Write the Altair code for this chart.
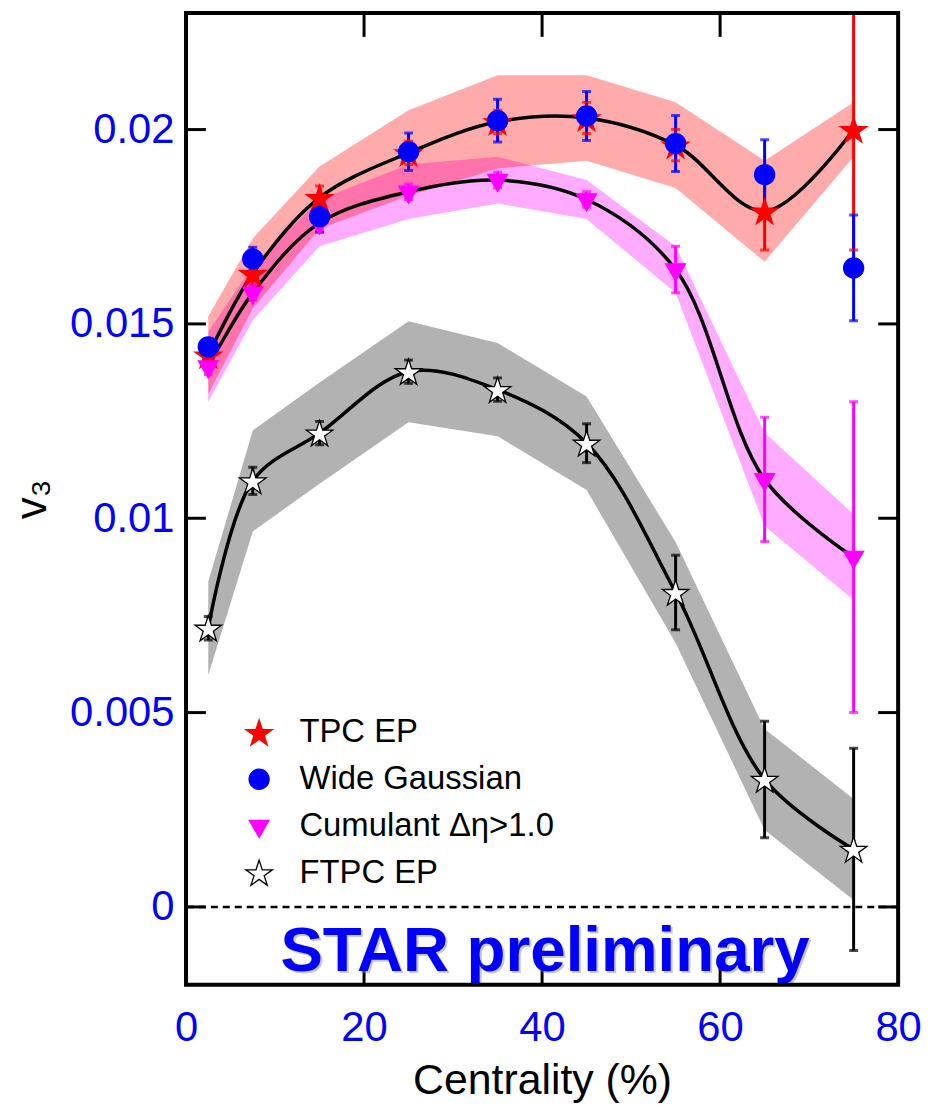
import altair as alt
import pandas as pd

FONT = "Liberation Sans"

# ---------------- data ----------------
CENT = [2.5, 7.5, 15, 25, 35, 45, 55, 65, 75]

SERIES = ["TPC EP", "Wide Gaussian", "Cumulant Δη>1.0", "FTPC EP"]
COLORS = ["#ff0000", "#0000ff", "#ff00ff", "#000000"]
FILLS = ["#ff0000", "#0000ff", "#ff00ff", "#ffffff"]

TPC_V = [0.0142, 0.0163, 0.01825, 0.0194, 0.0202, 0.0203, 0.0196, 0.0179, 0.0200]
TPC_E = [0.0003, 0.0003, 0.0003, 0.0003, 0.0003, 0.0004, 0.0004, 0.0010, 0.0031]
TPC_SYS = [0.0010, 0.0009, 0.0008, 0.0011, 0.0012, 0.0011, 0.0011, 0.0013, 0.0007]

WG_V = [0.01441, 0.01667, 0.01776, 0.01943, 0.02023, 0.02035, 0.01964, 0.01884, 0.01644]
WG_E = [0.0002, 0.0003, 0.0004, 0.00048, 0.00055, 0.00063, 0.00072, 0.0009, 0.00136]

CUM_V = [0.0139, 0.0158, 0.0176, 0.0184, 0.0187, 0.0182, 0.0164, 0.0110, 0.0090]
CUM_E = [0.0002, 0.0002, 0.0002, 0.0002, 0.0002, 0.0002, 0.0006, 0.0016, 0.0040]
CUM_SYS = [0.0009, 0.0007, 0.0006, 0.0007, 0.0006, 0.0005, 0.0006, 0.0012, 0.0011]

FTPC_V = [0.00717, 0.01096, 0.01219, 0.01377, 0.01331, 0.01193, 0.00809, 0.00328, 0.00148]
FTPC_E = [0.0003, 0.00035, 0.0003, 0.0003, 0.0003, 0.0005, 0.00096, 0.0015, 0.0026]
FTPC_SYS = [0.0012, 0.0013, 0.0013, 0.0013, 0.0012, 0.0012, 0.0013, 0.0013, 0.0013]

X_TICKS = [0, 20, 40, 60, 80]
Y_TICKS = [0, 0.005, 0.01, 0.015, 0.02]
X_INNER = [20, 40, 60]
Y_INNER = [0, 0.005, 0.01, 0.015, 0.02]
STAR_LABEL = "STAR preliminary"

# ---------------- table ----------------
rows = []
spec = [
    ("TPC EP", TPC_V, TPC_E, TPC_SYS, "#ff0000"),
    ("Cumulant Δη>1.0", CUM_V, CUM_E, CUM_SYS, "#ff00ff"),
    ("Wide Gaussian", WG_V, WG_E, None, "#0000ff"),
    ("FTPC EP", FTPC_V, FTPC_E, FTPC_SYS, "#000000"),
]
for name, vals, errs, syss, col in spec:
    for i, (c, v, e) in enumerate(zip(CENT, vals, errs)):
        s = syss[i] if syss is not None else None
        rows.append(dict(series=name, cent=c, v=v, lo=v - e, hi=v + e,
                         slo=(v - s) if s is not None else None,
                         shi=(v + s) if s is not None else None,
                         ecol=col, order=len(rows)))
df = pd.DataFrame(rows)

W, H = 716, 977

x_scale = alt.Scale(domain=[0, 80], nice=False, zero=False)
y_scale = alt.Scale(domain=[-0.002, 0.023], nice=False, zero=False)

X_AXIS = alt.Axis(values=X_TICKS, grid=False, ticks=False, tickSize=0, domain=False,
                  labelFont=FONT, labelFontSize=42, labelColor="#0000ff",
                  labelBaseline="alphabetic", labelPadding=56, labelFlush=False,
                  title="Centrality (%)", titleFont=FONT, titleFontSize=43,
                  titleFontWeight="normal", titleColor="black",
                  titleBaseline="alphabetic", titleY=109)
Y_AXIS = alt.Axis(values=Y_TICKS, grid=False, ticks=False, tickSize=0, domain=False,
                  labelFont=FONT, labelFontSize=42, labelColor="#0000ff",
                  labelPadding=12, labelFlush=False,
                  labelExpr="format(datum.value, '~g')",
                  title="v₃", titleFont=FONT, titleFontSize=44,
                  titleFontWeight="normal", titleColor="black",
                  titleBaseline="alphabetic", titleX=-141, titleY=H / 2, titleAngle=-90)


def X(field):
    return alt.X(field, type="quantitative", scale=x_scale, axis=X_AXIS)


def Y(field):
    return alt.Y(field, type="quantitative", scale=y_scale, axis=Y_AXIS)


base = alt.Chart(df)

STAR = ("M0,-0.905L0.2245,-0.214L0.9511,-0.214L0.3633,0.213L0.5878,0.904L0,0.477"
        "L-0.5878,0.904L-0.3633,0.213L-0.9511,-0.214L-0.2245,-0.214Z")
CIRCLE = "M0.72,0A0.72,0.72,0,1,1,-0.72,0A0.72,0.72,0,1,1,0.72,0Z"
TRI = "M-0.71,-0.41L0.71,-0.41L0,0.82Z"


def band(name, color, op):
    return base.transform_filter(alt.datum.series == name).mark_area(
        color=color, opacity=op, interpolate="linear"
    ).encode(x=X("cent"), y=Y("slo"), y2="shi")


bands = band("FTPC EP", "#000000", 0.3) + band("Cumulant Δη>1.0", "#ff00ff", 0.33) + band("TPC EP", "#ff0000", 0.33)

lines = base.transform_filter(
    alt.FieldOneOfPredicate(field="series", oneOf=["TPC EP", "Cumulant Δη>1.0", "FTPC EP"])
).mark_line(color="black", strokeWidth=3.5, interpolate="catmull-rom").encode(
    x=X("cent"), y=Y("v"), detail="series:N", order="cent:Q"
)

zero = alt.Chart(pd.DataFrame({"z": [0]})).mark_rule(
    color="black", strokeWidth=2.5, strokeDash=[7, 5]
).encode(y=Y("z"))

err = base.mark_rule(strokeWidth=3, clip=True).encode(
    x=X("cent"), y=Y("lo"), y2="hi", stroke=alt.Stroke("ecol:N", scale=None)
)
cap_lo = base.mark_tick(orient="horizontal", size=9, thickness=3, clip=True).encode(
    x=X("cent"), y=Y("lo"), color=alt.Color("ecol:N", scale=None)
)
cap_hi = base.mark_tick(orient="horizontal", size=9, thickness=3, clip=True).encode(
    x=X("cent"), y=Y("hi"), color=alt.Color("ecol:N", scale=None)
)

legend = alt.Legend(title=None, orient="none", legendX=57, legendY=707,
                    symbolSize=784, symbolStrokeWidth=1.3, labelFont=FONT,
                    labelFontSize=33, labelColor="black", labelOffset=24,
                    rowPadding=13, padding=0, labelLimit=500, symbolOpacity=1)

points = base.mark_point(opacity=1, strokeWidth=1.3, size=784).encode(
    x=X("cent"), y=Y("v"),
    shape=alt.Shape("series:N", scale=alt.Scale(domain=SERIES, range=[STAR, CIRCLE, TRI, STAR]), legend=legend),
    fill=alt.Fill("series:N", scale=alt.Scale(domain=SERIES, range=FILLS), legend=legend),
    stroke=alt.Stroke("series:N", scale=alt.Scale(domain=SERIES, range=COLORS), legend=legend),
    order="order:Q",
)

xt = pd.DataFrame({"t": X_INNER})
yt = pd.DataFrame({"t": Y_INNER})
ticks_top = alt.Chart(xt).mark_rule(color="black", strokeWidth=3).encode(
    x=X("t"), y=alt.value(0), y2=alt.value(24))
ticks_bot = alt.Chart(xt).mark_rule(color="black", strokeWidth=3).encode(
    x=X("t"), y=alt.value(H), y2=alt.value(H - 18))
ticks_left = alt.Chart(yt).mark_rule(color="black", strokeWidth=3).encode(
    y=Y("t"), x=alt.value(0), x2=alt.value(20))
ticks_right = alt.Chart(yt).mark_rule(color="black", strokeWidth=3).encode(
    y=Y("t"), x=alt.value(W), x2=alt.value(W - 20))

frame = alt.Chart(pd.DataFrame({"f": [1]})).mark_rect(
    fillOpacity=0, stroke="black", strokeWidth=4
).encode(x=alt.value(0), x2=alt.value(W), y=alt.value(0), y2=alt.value(H))

lab = pd.DataFrame({"label": [STAR_LABEL]})
star_shadow = alt.Chart(lab).mark_text(
    font=FONT, fontSize=64, fontWeight="bold", color="#888888", opacity=0.45,
    align="center", baseline="alphabetic", dx=2, dy=2
).encode(text="label:N", x=alt.value(361), y=alt.value(963))
star_text = alt.Chart(lab).mark_text(
    font=FONT, fontSize=64, fontWeight="bold", color="#0000ff",
    align="center", baseline="alphabetic"
).encode(text="label:N", x=alt.value(361), y=alt.value(963))

chart = alt.layer(
    bands, zero, lines, err, cap_lo, cap_hi, points,
    ticks_top, ticks_bot, ticks_left, ticks_right, star_shadow, star_text, frame
).properties(
    width=W, height=H,
    autosize=alt.AutoSizeParams(type="none"),
    padding={"left": 179, "top": 2, "right": 24, "bottom": 120},
).configure_view(strokeWidth=0).configure(background="white")

chart.save("out.html", embed_options={"renderer": "svg", "actions": False})
